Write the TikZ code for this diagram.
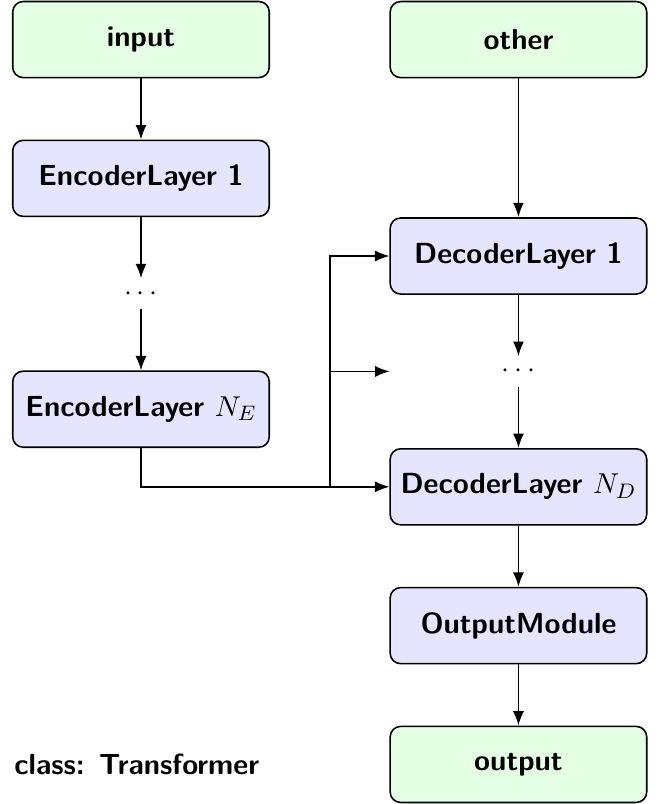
\documentclass[tikz,border=0pt]{standalone}
\usetikzlibrary{positioning, calc, arrows.meta}
\definecolor{ioblock}{RGB}{229, 255, 229}
\definecolor{layerblock}{RGB}{229, 229, 255}

\begin{document}
\begin{tikzpicture}[
    node distance=0.82cm,
    font=\fontsize{11.1}{13}\selectfont\sffamily\bfseries,
    box/.style={rectangle, draw, semithick, rounded corners, minimum width=3.44cm, minimum height=1.02cm, align=center},
    io/.style={box, fill=ioblock},
    layer/.style={box, fill=layerblock},
    skipdots/.style={rectangle, minimum width=3.44cm, minimum height=0.4cm, inner sep=0pt},
    arrow/.style={-{Latex[length=5.5pt, width=4.2pt]}, semithick}
]

% Encoder side
\node[io] (input) {input};
\node[layer, below=of input] (enc1) {EncoderLayer 1};
\node[skipdots, below=of enc1] (encdots) {$\cdots$};
\node[layer, below=of encdots] (encN) {EncoderLayer $N_E$};

\draw[arrow] (input) -- (enc1);
\draw[arrow] (enc1) -- (encdots);
\draw[arrow] (encdots) -- (encN);

% Decoder side
\node[io, right=1.6cm of input] (other) {other};
\node[layer, below right=0cm and 1.6cm of enc1] (dec1) {DecoderLayer 1};
\node[skipdots, below=of dec1] (decdots) {$\cdots$};
\node[layer, below=of decdots] (decN) {DecoderLayer $N_D$};
\node[layer, below=of decN] (outmod) {OutputModule};
\node[io, below=of outmod] (output) {output};

\draw[arrow] (other) -- (dec1);
\draw[arrow] (dec1) -- (decdots);
\draw[arrow] (decdots) -- (decN);
\draw[arrow] (decN) -- (outmod);
\draw[arrow] (outmod) -- (output);

% Encoder output to every decoder layer
\coordinate (bus) at ($(enc1.east)!0.5!(dec1.west)$);
\draw[arrow] (encN.south) |- (decN.west);
\draw[arrow] (bus |- decN.west) |- (dec1.west);
\draw[arrow] (bus |- decdots.west) -- (decdots.west);

% Label
\node[anchor=west, xshift=-0.09cm] (caption) at (input.west |- output) {class: Transformer};

\useasboundingbox ($(input.north west)+(-0.16,0.01)$) rectangle ($(output.south east)+(0.2,-0.01)$);

\end{tikzpicture}
\end{document}
